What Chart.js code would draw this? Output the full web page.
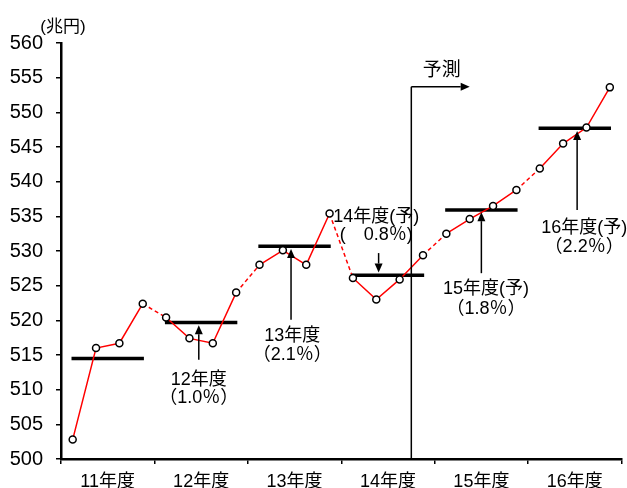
<!DOCTYPE html>
<html>
<head>
<meta charset="utf-8">
<script src="https://cdn.jsdelivr.net/npm/chart.js@4.4.0/dist/chart.umd.min.js"></script>
<style>
html, body { margin: 0; padding: 0; background: #fff; }
</style>
</head>
<body>
<canvas id="gdpChart" width="627" height="488"></canvas>
<script>
// 年度ラベル
const years = ['11年度', '12年度', '13年度', '14年度', '15年度', '16年度'];
// 四半期の値 (兆円)
const quarterly = [
    502.8, 516.0, 516.7, 522.4,
    520.4, 517.4, 516.7, 524.0,
    528.0, 530.1, 528.0, 535.4,
    526.1, 523.0, 525.9, 529.4,
    532.5, 534.6, 536.5, 538.8,
    541.9, 545.5, 547.8, 553.6
];
// 年度平均 (兆円)
const annual = [514.5, 519.7, 530.7, 526.5, 535.9, 547.7];
// 注記のテキスト
const noteLabels = ['12年度', '13年度', '14年度(予)', '15年度(予)', '16年度(予)'];
const noteRates = ['（1.0％）', '（2.1％）', '(　0.8％)', '（1.8％）', '（2.2％）'];
// y軸
const yMin = 500, yMax = 560, yStep = 5;

const FONT = '"Liberation Sans", "Noto Sans CJK JP", sans-serif';

// 注記の位置 (x: 四半期単位, y: 兆円)
const noteLayout = [
    { ax: 5.9, tail: 514.3, tip: 519.3, tx: 5.9, ty1: 511.4, ty2: 508.8 },
    { ax: 9.85, tail: 520.1, tip: 530.3, tx: 9.9, ty1: 517.7, ty2: 515.0 },
    { ax: 13.6, tail: 529.7, tip: 526.9, tx: 13.5, ty1: 534.9, ty2: 532.3 },
    { ax: 18.0, tail: 526.8, tip: 535.6, tx: 18.2, ty1: 524.5, ty2: 521.6 },
    { ax: 22.1, tail: 535.9, tip: 547.3, tx: 22.4, ty1: 533.3, ty2: 530.6 }
];

function drawArrow(ctx, x1, y1, x2, y2) {
    const ang = Math.atan2(y2 - y1, x2 - x1);
    const len = 9, half = 4;
    ctx.beginPath();
    ctx.moveTo(x1, y1);
    ctx.lineTo(x2 - Math.cos(ang) * len, y2 - Math.sin(ang) * len);
    ctx.stroke();
    ctx.beginPath();
    ctx.moveTo(x2, y2);
    ctx.lineTo(x2 - Math.cos(ang) * len - Math.sin(ang) * half, y2 - Math.sin(ang) * len + Math.cos(ang) * half);
    ctx.lineTo(x2 - Math.cos(ang) * len + Math.sin(ang) * half, y2 - Math.sin(ang) * len - Math.cos(ang) * half);
    ctx.closePath();
    ctx.fill();
}

const notePlugin = {
    id: 'notes',
    afterDatasetsDraw(chart) {
        const { ctx, chartArea, scales: { x, y } } = chart;
        ctx.save();
        ctx.strokeStyle = '#000';
        ctx.fillStyle = '#000';
        ctx.lineWidth = 1.5;

        // 予測ライン
        const fx = x.getPixelForValue(15);
        const fy = y.getPixelForValue(553.7);
        ctx.beginPath();
        ctx.moveTo(fx, chartArea.bottom);
        ctx.lineTo(fx, fy);
        ctx.stroke();
        drawArrow(ctx, fx, fy, x.getPixelForValue(17.5), fy);

        ctx.font = '19px ' + FONT;
        ctx.textAlign = 'center';
        ctx.textBaseline = 'middle';
        ctx.fillText('予測', x.getPixelForValue(16.3), y.getPixelForValue(556));

        // 年度の注記
        ctx.font = '18px ' + FONT;
        noteLayout.forEach((n, i) => {
            const ax = x.getPixelForValue(n.ax);
            drawArrow(ctx, ax, y.getPixelForValue(n.tail), ax, y.getPixelForValue(n.tip));
            const tx = x.getPixelForValue(n.tx);
            ctx.fillText(noteLabels[i], tx, y.getPixelForValue(n.ty1));
            ctx.fillText(noteRates[i], tx, y.getPixelForValue(n.ty2));
        });

        // 単位
        ctx.font = '17px ' + FONT;
        ctx.fillText('(兆円)', chartArea.left + 2, chartArea.top - 16);
        ctx.restore();
    }
};

function createChart() {
    const ctx = document.getElementById('gdpChart').getContext('2d');

    const lineData = quarterly.map((v, i) => ({ x: i + 0.5, y: v }));

    const datasets = [{
        label: '四半期',
        data: lineData,
        borderColor: '#ff0000',
        borderWidth: 1.5,
        pointRadius: 3.5,
        pointBorderWidth: 1.5,
        pointBorderColor: '#000',
        pointBackgroundColor: '#fff',
        tension: 0,
        segment: {
            // 年度の変わり目は点線
            borderDash: c => (c.p0DataIndex % 4 === 3 ? [4, 3] : undefined)
        }
    }];

    annual.forEach((v, k) => {
        datasets.push({
            label: years[k] + '平均',
            data: [{ x: 4 * k + 0.45, y: v }, { x: 4 * k + 3.55, y: v }],
            borderColor: '#000',
            borderWidth: 3.5,
            pointRadius: 0
        });
    });

    new Chart(ctx, {
        type: 'line',
        data: { datasets },
        options: {
            responsive: false,
            animation: false,
            layout: { padding: { top: 43, right: 5, left: 0, bottom: 0 } },
            plugins: {
                legend: { display: false },
                tooltip: { enabled: false }
            },
            scales: {
                x: {
                    type: 'linear',
                    display: false,
                    min: 0,
                    max: 24
                },
                x2: {
                    type: 'category',
                    labels: years,
                    position: 'bottom',
                    offset: true,
                    grid: {
                        offset: true,
                        drawOnChartArea: false,
                        drawTicks: true,
                        tickLength: 5,
                        color: '#000',
                        lineWidth: 1.5
                    },
                    border: { display: true, color: '#000', width: 2.5 },
                    ticks: {
                        color: '#000',
                        padding: 7,
                        maxRotation: 0,
                        font: { family: FONT, size: 18 }
                    },
                    afterFit: s => { s.height = 29; }
                },
                y: {
                    min: yMin,
                    max: yMax,
                    grid: {
                        drawOnChartArea: false,
                        drawTicks: true,
                        tickLength: 5,
                        color: '#000',
                        lineWidth: 1.5
                    },
                    border: { display: true, color: '#000', width: 2.5 },
                    ticks: {
                        stepSize: yStep,
                        color: '#000',
                        padding: 13,
                        font: { family: FONT, size: 20 }
                    },
                    afterFit: s => { s.width = 61; }
                }
            }
        },
        plugins: [notePlugin]
    });
}

createChart();
</script>
</body>
</html>
